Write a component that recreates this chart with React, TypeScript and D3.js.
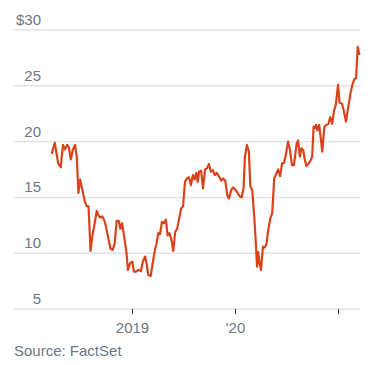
import React, { useEffect, useRef } from "react";
import * as d3 from "d3";

const dates = [
  "2018-03-21", "2018-04-01", "2018-04-13", "2018-04-22", "2018-04-30", "2018-05-07", "2018-05-15", "2018-05-21",
  "2018-05-28", "2018-06-04", "2018-06-12", "2018-06-18", "2018-06-24", "2018-06-30", "2018-07-07", "2018-07-17",
  "2018-07-24", "2018-07-30", "2018-08-06", "2018-08-13", "2018-08-21", "2018-08-28", "2018-09-05", "2018-09-11",
  "2018-09-17", "2018-09-23", "2018-09-29", "2018-10-07", "2018-10-16", "2018-10-24", "2018-10-31", "2018-11-07",
  "2018-11-14", "2018-11-20", "2018-11-26", "2018-12-03", "2018-12-12", "2018-12-17", "2018-12-25", "2019-01-02",
  "2019-01-07", "2019-01-15", "2019-01-23", "2019-02-01", "2019-02-08", "2019-02-16", "2019-02-22", "2019-02-27",
  "2019-03-08", "2019-03-15", "2019-03-23", "2019-03-29", "2019-04-04", "2019-04-10", "2019-04-17", "2019-04-24",
  "2019-05-01", "2019-05-07", "2019-05-13", "2019-05-20", "2019-05-27", "2019-06-03", "2019-06-10", "2019-06-17",
  "2019-06-24", "2019-07-01", "2019-07-08", "2019-07-15", "2019-07-22", "2019-07-29", "2019-08-05", "2019-08-11",
  "2019-08-17", "2019-08-22", "2019-08-27", "2019-09-03", "2019-09-10", "2019-09-17", "2019-09-24", "2019-10-01",
  "2019-10-08", "2019-10-15", "2019-10-22", "2019-10-29", "2019-11-05", "2019-11-14", "2019-11-21", "2019-11-28",
  "2019-12-05", "2019-12-11", "2019-12-19", "2019-12-26", "2020-01-04", "2020-01-11", "2020-01-18", "2020-01-25",
  "2020-02-01", "2020-02-06", "2020-02-13", "2020-02-20", "2020-02-25", "2020-03-03", "2020-03-10", "2020-03-15",
  "2020-03-20", "2020-03-24", "2020-03-29", "2020-04-03", "2020-04-10", "2020-04-15", "2020-04-22", "2020-04-29",
  "2020-05-06", "2020-05-13", "2020-05-20", "2020-05-27", "2020-06-03", "2020-06-10", "2020-06-17", "2020-06-24",
  "2020-07-01", "2020-07-08", "2020-07-15", "2020-07-22", "2020-07-29", "2020-08-08", "2020-08-13", "2020-08-19",
  "2020-08-25", "2020-08-31", "2020-09-06", "2020-09-12", "2020-09-20", "2020-09-27", "2020-10-02", "2020-10-07",
  "2020-10-12", "2020-10-16", "2020-10-21", "2020-10-27", "2020-11-07", "2020-11-14", "2020-11-22", "2020-11-29",
  "2020-12-05", "2020-12-12", "2020-12-19", "2020-12-25", "2021-01-02", "2021-01-07", "2021-01-16", "2021-01-22",
  "2021-01-30", "2021-02-08", "2021-02-15", "2021-02-22", "2021-03-01", "2021-03-07", "2021-03-13", "2021-03-18",
  "2021-03-21",
];

const prices = [
  18.9, 19.9, 18.05, 17.7, 19.7, 19.3, 19.7, 19.5,
  18.4, 19.25, 19.7, 18.65, 15.4, 16.6, 15.8, 14.6,
  14.2, 14.2, 10.2, 11.6, 12.7, 13.8, 13.3, 13.2,
  13.3, 13.0, 12.5, 11.5, 10.4, 10.3, 10.9, 12.9,
  12.9, 12.2, 12.7, 11.6, 10.0, 8.5, 9.1, 9.25,
  8.35, 8.35, 8.5, 8.4, 9.25, 9.7, 9.0, 8.05,
  7.95, 9.1, 10.3, 10.9, 11.8, 11.7, 12.8, 12.7,
  13.0, 11.6, 11.8, 11.3, 10.2, 11.9, 12.2, 13.1,
  14.0, 14.2, 16.4, 16.7, 16.8, 16.1, 17.0, 16.6,
  17.2, 16.4, 17.3, 17.4, 15.8, 17.5, 17.6, 18.0,
  17.3, 17.45, 17.0, 17.2, 16.9, 16.5, 16.7, 16.5,
  15.2, 14.9, 15.65, 15.9, 15.65, 15.4, 15.1, 15.0,
  15.8, 18.65, 19.7, 19.1, 16.0, 15.65, 13.3, 11.2,
  8.8, 10.1, 9.1, 8.5, 10.6, 10.5, 10.75, 12.1,
  13.1, 13.6, 16.7, 17.1, 17.5, 16.9, 18.05, 18.1,
  18.9, 20.0, 19.25, 17.9, 17.9, 19.85, 20.1, 18.65,
  19.4, 19.25, 18.35, 17.8, 18.05, 18.35, 18.65, 21.35,
  21.2, 21.5, 21.0, 21.5, 19.1, 21.3, 21.5, 21.6,
  22.2, 21.6, 22.8, 23.3, 25.1, 23.5, 23.4, 22.8,
  21.8, 23.2, 24.3, 25.1, 25.6, 25.7, 28.5, 27.9,
  27.8,
];

const yTicks = [5, 10, 15, 20, 25, 30];
const xTicks = ["2019-01-01", "2020-01-01", "2021-01-01"];
const xTickLabels = ["2019", "'20", ""];

const source = "Source: FactSet";

const App = () => {
  const ref = useRef<SVGSVGElement>(null);

  useEffect(() => {
    const svg = d3.select(ref.current);
    svg.selectAll("*").remove();

    const width = 370;
    const height = 365;
    const font = "'Liberation Sans', Arial, sans-serif";
    const textColor = "#6b7886";

    const parse = d3.timeParse("%Y-%m-%d");
    const data = dates.map((d, i) => ({ date: parse(d) as Date, value: prices[i] }));

    const x = d3
      .scaleTime()
      .domain(d3.extent(data, (d) => d.date) as [Date, Date])
      .range([51.7, 360]);

    const y = d3.scaleLinear().domain([5, 30]).range([309, 30]);

    svg.attr("width", width).attr("height", height);

    // grid
    svg
      .append("g")
      .selectAll("line")
      .data(yTicks)
      .enter()
      .append("line")
      .attr("x1", 14)
      .attr("x2", 360)
      .attr("y1", (d) => y(d))
      .attr("y2", (d) => y(d))
      .style("stroke", "#e3e3e3")
      .style("stroke-width", 1.5);

    svg
      .append("g")
      .selectAll("text")
      .data(yTicks)
      .enter()
      .append("text")
      .attr("x", 41)
      .attr("y", (d) => y(d) - 5)
      .attr("text-anchor", "end")
      .style("font-family", font)
      .style("font-size", "15px")
      .style("fill", textColor)
      .text((d) => (d === 30 ? "$30" : String(d)));

    // x ticks
    const xt = svg.append("g").selectAll("g").data(xTicks).enter().append("g")
      .attr("transform", (d) => `translate(${Math.round(x(parse(d) as Date)) + 0.5}, 0)`);

    xt.append("line")
      .attr("y1", 309)
      .attr("y2", 314)
      .style("stroke", "#333")
      .style("stroke-width", 1);

    xt.append("text")
      .attr("y", 333)
      .attr("text-anchor", "middle")
      .style("font-family", font)
      .style("font-size", "15px")
      .style("fill", textColor)
      .text((_, i) => xTickLabels[i]);

    const line = d3
      .line<{ date: Date; value: number }>()
      .x((d) => x(d.date))
      .y((d) => y(d.value));

    svg
      .append("path")
      .datum(data)
      .attr("d", line)
      .style("fill", "none")
      .style("stroke", "#d9431b")
      .style("stroke-width", 2.2)
      .style("stroke-linejoin", "round");

    svg
      .append("text")
      .attr("x", 14)
      .attr("y", 356)
      .style("font-family", font)
      .style("font-size", "15px")
      .style("fill", textColor)
      .text(source);
  }, []);

  return (
    <div style={{ position: "absolute", left: 0, top: 0 }}>
      <svg ref={ref} style={{ display: "block" }}></svg>
    </div>
  );
};

export default App;
